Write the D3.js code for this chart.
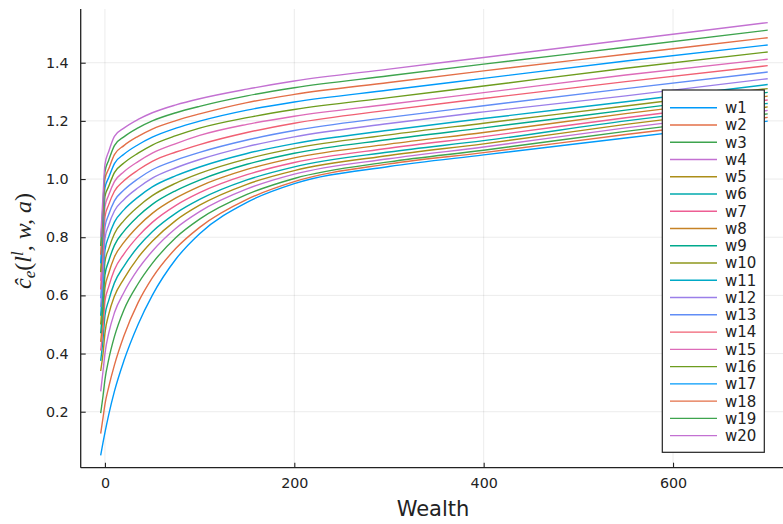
<!DOCTYPE html>
<html><head><meta charset="utf-8">
<script src="https://cdn.jsdelivr.net/npm/d3@7"></script>
<style>html,body{margin:0;padding:0;background:#fff;}svg{display:block;}</style>
</head><body>
<svg id="chart" width="783" height="524"></svg>
<script>
const wealth = [-4.5, -2, 0, 4, 10, 20, 35, 50, 75, 100, 150, 200, 300, 400, 550, 700];
const w1  = [0.05,0.095,0.128,0.19,0.27,0.375,0.50,0.60,0.725,0.812,0.92,0.984,1.043,1.083,1.141,1.199];
const w2  = [0.125,0.18,0.225,0.285,0.36,0.46,0.575,0.66,0.762,0.834,0.93,0.991,1.052,1.091,1.153,1.212];
const w3  = [0.195,0.255,0.31,0.38,0.458,0.55,0.64,0.71,0.799,0.862,0.947,1.002,1.059,1.099,1.164,1.224];
const w4  = [0.27,0.34,0.40,0.47,0.54,0.61,0.69,0.752,0.831,0.888,0.966,1.017,1.070,1.11,1.176,1.236];
const w5  = [0.34,0.40,0.47,0.535,0.597,0.657,0.73,0.786,0.858,0.910,0.982,1.029,1.081,1.121,1.188,1.248];
const w6  = [0.375,0.45,0.53,0.583,0.643,0.70,0.767,0.819,0.883,0.930,0.997,1.042,1.093,1.132,1.2,1.26];
const w7  = [0.41,0.49,0.58,0.63,0.688,0.742,0.803,0.851,0.9095,0.953,1.015,1.057,1.106,1.146,1.211,1.272];
const w8  = [0.44,0.53,0.625,0.676,0.732,0.782,0.838,0.882,0.935,0.975,1.033,1.073,1.12,1.16,1.225,1.285];
const w9  = [0.47,0.57,0.67,0.718,0.772,0.82,0.872,0.913,0.9605,0.9966,1.0508,1.0888,1.136,1.176,1.237,1.298];
const w10 = [0.50,0.61,0.715,0.76,0.812,0.857,0.905,0.943,0.986,1.0192,1.0692,1.1054,1.152,1.192,1.251,1.311];
const w11 = [0.53,0.645,0.755,0.802,0.852,0.894,0.938,0.973,1.0115,1.0415,1.088,1.122,1.168,1.208,1.266,1.325];
const w12 = [0.56,0.68,0.795,0.842,0.89,0.929,0.97,1.003,1.0388,1.0671,1.1115,1.1451,1.191,1.231,1.286,1.345];
const w13 = [0.59,0.715,0.835,0.878,0.925,0.962,1.001,1.032,1.0652,1.0918,1.1343,1.1668,1.212,1.252,1.311,1.368];
const w14 = [0.62,0.75,0.87,0.912,0.958,0.994,1.031,1.061,1.093,1.1186,1.16,1.192,1.237,1.277,1.335,1.39];
const w15 = [0.65,0.785,0.905,0.945,0.991,1.025,1.06,1.089,1.122,1.15,1.188,1.216,1.257,1.297,1.358,1.412];
const w16 = [0.68,0.82,0.94,0.975,1.022,1.055,1.089,1.117,1.149,1.175,1.211,1.239,1.28,1.32,1.381,1.437];
const w17 = [0.71,0.855,0.97,1.005,1.053,1.085,1.118,1.144,1.175,1.199,1.237,1.265,1.306,1.346,1.406,1.461];
const w18 = [0.74,0.885,1.0,1.035,1.084,1.115,1.147,1.172,1.201,1.224,1.263,1.291,1.332,1.372,1.429,1.486];
const w19 = [0.77,0.915,1.025,1.065,1.115,1.145,1.176,1.2,1.228,1.25,1.286,1.314,1.355,1.395,1.453,1.512];
const w20 = [0.80,0.945,1.05,1.095,1.147,1.175,1.205,1.228,1.255,1.276,1.309,1.337,1.378,1.418,1.478,1.538];
const seriesNames = ["w1","w2","w3","w4","w5","w6","w7","w8","w9","w10","w11","w12","w13","w14","w15","w16","w17","w18","w19","w20"];
const seriesValues = [w1,w2,w3,w4,w5,w6,w7,w8,w9,w10,w11,w12,w13,w14,w15,w16,w17,w18,w19,w20];
const palette = ["#009afa","#e36f47","#3ea44e","#c371d2","#ac8e18","#00aaae","#ed5e93","#c68225","#00a98d","#8e971d","#00a9c6","#9b7fe9","#618df6","#f06073","#dd6bb9","#6d9c1e"];
const xTicks = [0, 200, 400, 600];
const yTicks = [0.2, 0.4, 0.6, 0.8, 1.0, 1.2, 1.4];
const xLabel = "Wealth";

const svg = d3.select("#chart");
const pL = 80.7, pR = 787.7, pT = 9, pB = 467.7;
const x = d3.scaleLinear().domain([-25.6, 721.1]).range([pL, pR]);
const y = d3.scaleLinear().domain([0.0075, 1.5847]).range([pB, pT]);

svg.append("defs").append("clipPath").attr("id","clip")
  .append("rect").attr("x", pL).attr("y", pT).attr("width", pR-pL).attr("height", pB-pT);

// grid
const grid = svg.append("g");
grid.selectAll("line.gx").data(xTicks).join("line")
  .attr("x1", d=>x(d)).attr("x2", d=>x(d)).attr("y1", pT).attr("y2", pB)
  .attr("stroke", "#000").attr("stroke-opacity", 0.08).attr("stroke-width", 1);
grid.selectAll("line.gy").data(yTicks).join("line")
  .attr("x1", pL).attr("x2", pR).attr("y1", d=>y(d)).attr("y2", d=>y(d))
  .attr("stroke", "#000").attr("stroke-opacity", 0.08).attr("stroke-width", 1);

// lines
const lineGen = d3.line().x(d=>x(d[0])).y(d=>y(d[1])).curve(d3.curveMonotoneX);
const lg = svg.append("g").attr("clip-path","url(#clip)");
seriesValues.forEach((vals, i) => {
  lg.append("path")
    .attr("d", lineGen(wealth.map((w, j) => [w, vals[j]])))
    .attr("fill","none").attr("stroke", palette[i % palette.length]).attr("stroke-width", 1.4);
});

// axes
const xAxis = d3.axisBottom(x).tickValues(xTicks).tickFormat(d3.format("d")).tickSizeInner(-5).tickSizeOuter(0).tickPadding(10);
const yAxis = d3.axisLeft(y).tickValues(yTicks).tickFormat(d3.format(".1f")).tickSizeInner(-5).tickSizeOuter(0).tickPadding(12);
const gx = svg.append("g").attr("transform", `translate(0,${pB})`).call(xAxis);
const gy = svg.append("g").attr("transform", `translate(${pL},0)`).call(yAxis);
[gx, gy].forEach(g => {
  g.select(".domain").attr("stroke", "#222").attr("stroke-width", 1.3);
  g.selectAll(".tick line").attr("stroke", "#222").attr("stroke-width", 1.1);
  g.selectAll(".tick text").attr("font-family", "DejaVu Sans").attr("font-size", 14.3).attr("fill", "#222");
});
gx.select(".domain").attr("d", `M${pL},0H783`);
gy.select(".domain").attr("d", `M0,${pT}V${pB}`);

// x label
svg.append("text").attr("x", 433).attr("y", 516)
  .attr("text-anchor","middle").attr("font-family","DejaVu Sans").attr("font-size", 21).attr("fill","#222")
  .text(xLabel);

// y label (math)
const yl = svg.append("text").attr("transform","translate(31,241) rotate(-90)")
  .attr("text-anchor","middle").attr("font-family","Liberation Serif").attr("font-style","italic")
  .attr("font-size", 24).attr("fill","#222");
yl.append("tspan").text("ĉ");
yl.append("tspan").attr("baseline-shift","-25%").attr("font-size",17).text("e");
yl.append("tspan").attr("font-style","normal").text("(");
yl.append("tspan").text("l");
yl.append("tspan").attr("baseline-shift","45%").attr("font-size",17).text("l");
yl.append("tspan").text(", w, a");
yl.append("tspan").attr("font-style","normal").text(")");

// legend
const lgX = 662.3, lgY = 90, lgW = 102, lgH = 362.3, rowH = 17.26;
const leg = svg.append("g");
leg.append("rect").attr("x", lgX).attr("y", lgY).attr("width", lgW).attr("height", lgH)
  .attr("fill","#fff").attr("stroke","#222").attr("stroke-width",1.2);
seriesNames.forEach((name, i) => {
  const cy = 107.7 + i*rowH;
  leg.append("line").attr("x1", 670).attr("x2", 717).attr("y1", cy).attr("y2", cy)
    .attr("stroke", palette[i % palette.length]).attr("stroke-width", 1.4);
  leg.append("text").attr("x", 725).attr("y", cy).attr("dy","0.36em")
    .attr("font-family","DejaVu Sans").attr("font-size",15).attr("fill","#222").text(name);
});
</script>
</body></html>
